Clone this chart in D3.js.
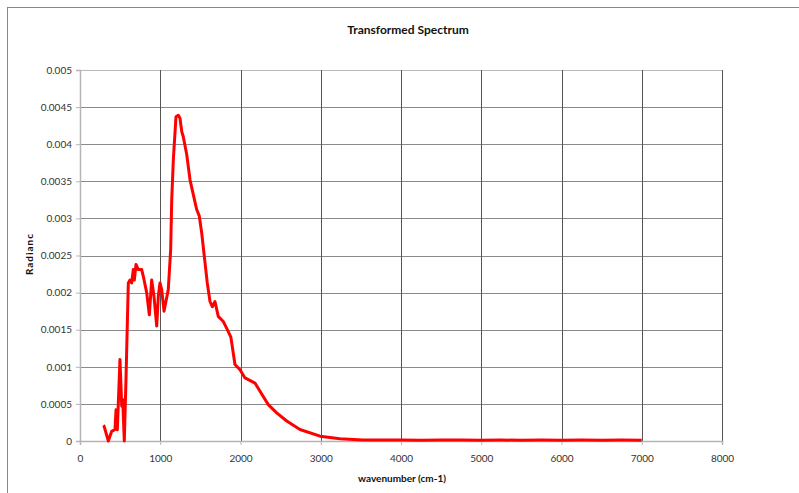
<!DOCTYPE html>
<html lang="en">
  <head>
    <meta charset="utf-8">
    <title>Transformed Spectrum</title>
    <script src="https://cdn.jsdelivr.net/npm/d3@7"></script>
    <style>
      body { margin: 0; background: #fff; }
      text { font-family: Lato, 'Liberation Sans', sans-serif; }
    </style>
  </head>
  <body>
    <div id="chart"></div>

    <script type='text/javascript'>
      // values
      let wavenumber = [290, 300, 353, 395, 436, 449, 465, 498, 520, 532, 552, 573, 602,
                        623, 644, 664, 677, 698, 726, 769, 789, 831, 864, 893, 922, 956,
                        976, 997, 1018, 1047, 1080, 1100, 1130, 1143, 1163, 1196, 1225,
                        1246, 1268, 1287, 1330, 1371, 1412, 1454, 1487, 1517, 1558, 1586,
                        1620, 1649, 1682, 1723, 1786, 1836, 1880, 1931, 1994, 2056, 2181,
                        2243, 2346, 2451, 2576, 2741, 2991, 3240, 3526, 3800, 4000, 4250,
                        4500, 4750, 5000, 5250, 5500, 5750, 6000, 6250, 6500, 6750, 7000]
      let radiance = [0.00021, 0.0002, 0.0, 0.00013, 0.000155, 0.00042, 0.00015, 0.0011,
                      0.00047, 0.00056, 0.0, 0.00083, 0.00213, 0.00217, 0.00213, 0.00231,
                      0.00217, 0.00238, 0.00231, 0.00231, 0.00222, 0.0020, 0.0017, 0.00217,
                      0.00195, 0.00155, 0.00195, 0.00213, 0.00204, 0.00175, 0.00193,
                      0.00204, 0.00258, 0.00325, 0.00379, 0.00437, 0.00439, 0.00435,
                      0.00417, 0.0041, 0.00386, 0.00352, 0.00332, 0.00312, 0.00303, 0.0028,
                      0.0024, 0.00213, 0.00188, 0.00181, 0.00188, 0.00168, 0.00161, 0.0015,
                      0.0014, 0.00103, 0.00096, 0.00085, 0.00078, 0.00067, 0.00049,
                      0.00038, 0.00027, 0.000155, 0.000065, 0.00003, 0.000015, 0.000012,
                      0.000014, 0.00001, 0.000012, 0.000014, 0.000011, 0.000013, 0.00001,
                      0.000012, 0.000011, 0.000013, 0.00001, 0.000012, 0.000011]
      let x_ticks = [0, 1000, 2000, 3000, 4000, 5000, 6000, 7000, 8000]
      let y_ticks = [0, 0.0005, 0.001, 0.0015, 0.002, 0.0025, 0.003, 0.0035, 0.004, 0.0045, 0.005]

      let data = wavenumber.map((w, i) => [w, radiance[i]])

      let W = 799, H = 493
      let margin = {top: 70, right: 77, bottom: 52, left: 80}
      let width = W - margin.left - margin.right
      let height = H - margin.top - margin.bottom

      let svg = d3.select('#chart').append('svg')
        .attr('width', W)
        .attr('height', H)

      // outer chart frame
      svg.append('rect')
        .attr('x', 7.5).attr('y', 7.5)
        .attr('width', W).attr('height', H)
        .style('fill', 'none')
        .style('stroke', '#888')

      let canvas = svg.append('g')
        .attr('transform', 'translate(' + margin.left + ',' + margin.top + ')')

      let scale_x = d3.scaleLinear()
          .domain([0, 8000])
          .range([0, width])
      let scale_y = d3.scaleLinear()
          .domain([0, 0.005])
          .range([height, 0])

      // horizontal gridlines
      canvas.append('g')
        .selectAll('line')
        .data(y_ticks.slice(1))
        .enter()
        .append('line')
        .attr('x1', 0).attr('x2', width)
        .attr('y1', (d) => Math.round(scale_y(d)) + 0.5)
        .attr('y2', (d) => Math.round(scale_y(d)) + 0.5)
        .style('stroke', (d) => d === 0.005 ? '#bbb' : '#8a8a8a')

      // vertical gridlines
      canvas.append('g')
        .selectAll('line')
        .data(x_ticks.slice(1))
        .enter()
        .append('line')
        .attr('x1', (d) => Math.round(scale_x(d)) + 0.5)
        .attr('x2', (d) => Math.round(scale_x(d)) + 0.5)
        .attr('y1', 0).attr('y2', height)
        .style('stroke', '#555')

      let x_axis = d3.axisBottom(scale_x)
        .tickValues(x_ticks)
        .tickFormat(d3.format('d'))
        .tickSize(4)
        .tickPadding(10)
      let gx = canvas.append('g')
        // transform moves the axis to the bottom
        .attr('transform', 'translate(0,' + height + ')')
        .call(x_axis)

      let y_axis = d3.axisLeft(scale_y)
        .tickValues(y_ticks)
        .tickFormat((d) => d === 0 ? '0' : String(+d.toFixed(4)))
        .tickSize(4)
        .tickPadding(4)
      let gy = canvas.append('g').call(y_axis)

      for (let g of [gx, gy]) {
        g.select('.domain').style('stroke', '#b5b5b5').style('stroke-width', 1.5)
        g.selectAll('.tick line').style('stroke', '#b5b5b5')
        g.selectAll('.tick text')
          .style('font-size', '10px')
          .style('fill', '#333')
          .style('font-family', 'Lato, sans-serif')
      }

      let line = d3.line()
        .x((d) => scale_x(d[0]))
        .y((d) => scale_y(d[1]))

      canvas.append('path')
        .datum(data)
        .attr('d', line)
        .style('fill', 'none')
        .style('stroke', '#ff0000')
        .style('stroke-width', 3)
        .style('stroke-linejoin', 'round')

      svg.append('text')
        .attr('x', 408).attr('y', 34)
        .attr('text-anchor', 'middle')
        .attr('font-size', '12px')
        .attr('font-weight', 'bold')
        .attr('fill', '#111')
        .text('Transformed Spectrum')

      svg.append('text')
        .attr('x', 402).attr('y', 482)
        .attr('text-anchor', 'middle')
        .attr('font-size', '10px')
        .attr('font-weight', 'bold')
        .attr('fill', '#111')
        .text('wavenumber (cm-1)')

      svg.append('text')
        .attr('transform', 'translate(33,254) rotate(-90)')
        .attr('text-anchor', 'middle')
        .attr('font-size', '10px')
        .attr('font-weight', 'bold')
        .attr('letter-spacing', '1px')
        .attr('fill', '#111')
        .text('Radianc')
    </script>
  </body>
</html>
